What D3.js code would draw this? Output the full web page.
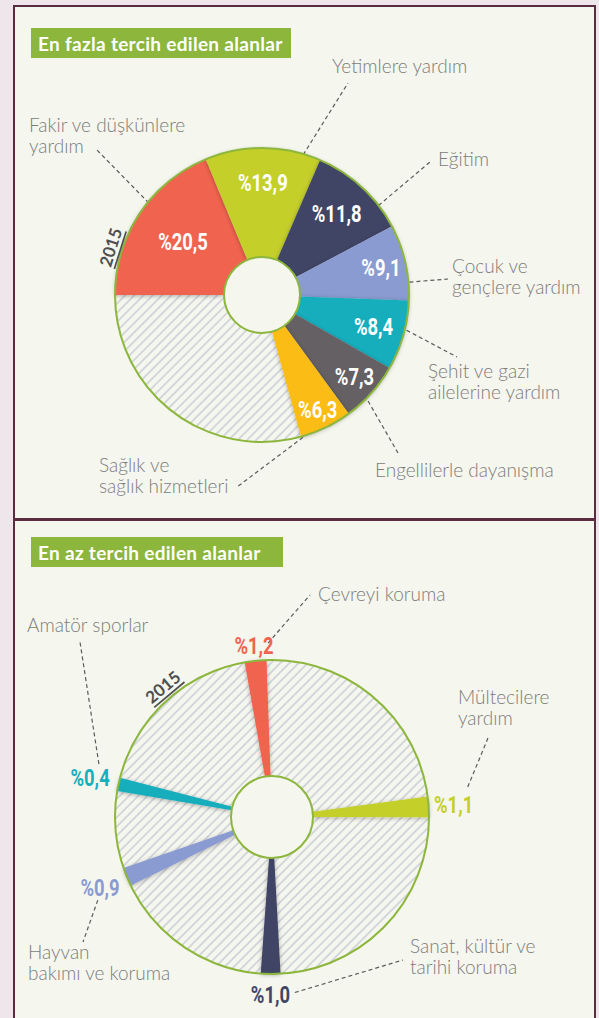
<!DOCTYPE html>
<html>
<head>
<meta charset="utf-8">
<script src="https://cdn.jsdelivr.net/npm/d3@7"></script>
<style>
  body { margin: 0; background: #efe6ec; }
  svg { display: block; }
</style>
</head>
<body>
<svg id="chart" width="599" height="1018"></svg>
<script>
// ---- data: most preferred (2015) ----
var topNames = [["Fakir ve düşkünlere", "yardım"], ["Yetimlere yardım"], ["Eğitim"],
    ["Çocuk ve", "gençlere yardım"], ["Şehit ve gazi", "ailelerine yardım"],
    ["Engellilerle dayanışma"], ["Sağlık ve", "sağlık hizmetleri"]];
var topValues = [20.5, 13.9, 11.8, 9.1, 8.4, 7.3, 6.3];
var topRest = 32.0;   // hatched part, size as drawn in the picture
var topColors = ["#f0644f", "#c4cf2a", "#414565", "#8a9bd1", "#17aebd", "#656163", "#fbbc14"];

// ---- data: least preferred (2015) ----
var botNames = [["Çevreyi koruma"], ["Mültecilere", "yardım"], ["Sanat, kültür ve", "tarihi koruma"],
    ["Hayvan", "bakımı ve koruma"], ["Amatör sporlar"]];
var botValues = [1.2, 1.1, 1.0, 0.9, 0.4];
var botColors = ["#f0644f", "#c4cf2a", "#414565", "#8a9bd1", "#17aebd"];

// ---- layout ----
var TOP = {cx: 262, cy: 295, r: 147, r0: 38};
var BOT = {cx: 272, cy: 817, r: 157, r0: 41};
var topPctR = [95, 112, 110, 122, 116, 124, 128];
// leader: start at (angle, radius) around the pie, end at x,y; text at tx,ty
var topCallouts = [
    {a: -52, r: 125, x: 95, y: 148, tx: 29, ty: 132},
    {a: 13.8, r: 126, x: 348, y: 83, tx: 332, ty: 73},
    {a: 52.6, r: 140, x: 430, y: 162, tx: 438, ty: 166},
    {a: 85, r: 148, x: 448, y: 279, tx: 452, ty: 273},
    {a: 103, r: 142, x: 457, y: 357, tx: 428, ty: 378},
    {a: 135, r: 150, x: 398, y: 453, tx: 375, ty: 477},
    {a: 156, r: 142, x: 237, y: 487, tx: 99, ty: 472}
];
var botAngles = [-6, 86.3, 180.5, 247.6, 282];
var botPctR = [172, 182, 178, 186, 186];
var botCallouts = [
    {a: -1.3, r: 174, x: 310, y: 595, tx: 318, ty: 601},
    {a: 81.3, r: 198, x: 488, y: 738, tx: 458, ty: 704},
    {a: 172.6, r: 177, x: 403, y: 960, tx: 410, ty: 953},
    {a: 244.5, r: 193, x: 83, y: 942, tx: 28, ty: 959},
    {a: 287, r: 181, x: 80, y: 642, tx: 27, ty: 632}
];

var GREEN = "#8cb63c";
var CREAM = "#f5f6ee";
var LABEL_FONT = "Lato, 'Open Sans', sans-serif";
var PCT_FONT = "Roboto, 'Liberation Sans', sans-serif";
var PCT_SQUEEZE = 0.8;

var svg = d3.select("#chart");
var defs = svg.append("defs");

var hatch = defs.append("pattern")
    .attr("id", "hatch")
    .attr("patternUnits", "userSpaceOnUse")
    .attr("width", 6.5).attr("height", 6.5)
    .attr("patternTransform", "rotate(45)");
hatch.append("rect").attr("width", 6.5).attr("height", 6.5).attr("fill", CREAM);
hatch.append("line").attr("x1", 1).attr("y1", 0).attr("x2", 1).attr("y2", 6.5)
    .attr("stroke", "#cacdd6").attr("stroke-width", 1.5);

defs.append("filter").attr("id", "shadow")
    .attr("x", "-20%").attr("y", "-20%").attr("width", "140%").attr("height", "140%")
  .append("feDropShadow")
    .attr("dx", 0).attr("dy", 1).attr("stdDeviation", 2)
    .attr("flood-color", "#000").attr("flood-opacity", 0.3);

function polar(c, r, deg) {
    var t = deg * Math.PI / 180;
    return [c.cx + r * Math.sin(t), c.cy - r * Math.cos(t)];
}

function pct(v) {
    return "%" + d3.format(".1f")(v).replace(".", ",");
}

// panels
svg.append("rect").attr("x", 14).attr("y", 6).attr("width", 581).attr("height", 513)
    .attr("fill", CREAM).attr("stroke", "#5a2c41").attr("stroke-width", 2);
svg.append("rect").attr("x", 14).attr("y", 520).attr("width", 581).attr("height", 520)
    .attr("fill", CREAM).attr("stroke", "#5a2c41").attr("stroke-width", 2);

function title(y, w, txt) {
    svg.append("rect").attr("x", 31).attr("y", y).attr("width", w).attr("height", 30).attr("fill", GREEN);
    svg.append("text").attr("x", 38).attr("y", y + 15)
        .attr("dominant-baseline", "central")
        .attr("fill", "#fff").attr("font-family", LABEL_FONT)
        .attr("font-weight", "bold").attr("font-size", 19)
        .attr("letter-spacing", 0.3)
        .text(txt);
}
title(28, 260, "En fazla tercih edilen alanlar");
title(537, 252, "En az tercih edilen alanlar");

function callouts(c, list, names) {
    var g = svg.append("g");
    list.forEach(function(d, i) {
        var p = polar(c, d.r, d.a);
        g.append("line")
            .attr("x1", p[0]).attr("y1", p[1]).attr("x2", d.x).attr("y2", d.y)
            .attr("stroke", "#5b5b5b").attr("stroke-width", 1.2)
            .attr("stroke-dasharray", "4,3");
        var t = g.append("text").attr("x", d.tx).attr("y", d.ty)
            .attr("font-family", LABEL_FONT).attr("font-size", 19)
            .attr("font-weight", 300)
            .attr("fill", "#7c7c7c");
        names[i].forEach(function(line, j) {
            t.append("tspan").attr("x", d.tx).attr("dy", j ? 21 : 0).text(line);
        });
    });
}

function yearLabel(c, r, deg) {
    var p = polar(c, r, deg);
    svg.append("text")
        .attr("transform", "translate(" + p[0] + "," + p[1] + ") rotate(" + deg + ")")
        .attr("text-anchor", "middle").attr("dominant-baseline", "central")
        .attr("font-family", LABEL_FONT).attr("font-weight", "bold").attr("font-size", 17)
        .attr("fill", "#4f4f4f").attr("text-decoration", "underline")
        .text("2015");
}

// ---- top donut ----
var pie = d3.pie().sort(null)
    .startAngle(-Math.PI / 2).endAngle(3 * Math.PI / 2);
var topArcs = pie(topValues.concat([topRest]));
var arcTop = d3.arc().innerRadius(TOP.r0).outerRadius(TOP.r);

callouts(TOP, topCallouts, topNames);

var gTop = svg.append("g").attr("transform", "translate(" + TOP.cx + "," + TOP.cy + ")");
gTop.append("circle").attr("r", TOP.r).attr("fill", "url(#hatch)");
gTop.selectAll("path.slice").data(topArcs.slice(0, topValues.length)).enter()
    .append("path").attr("class", "slice")
    .attr("d", arcTop)
    .attr("fill", function(d, i) { return topColors[i]; })
    .attr("filter", "url(#shadow)");
gTop.append("circle").attr("r", TOP.r).attr("fill", "none")
    .attr("stroke", GREEN).attr("stroke-width", 2);
gTop.append("circle").attr("r", TOP.r0).attr("fill", CREAM)
    .attr("stroke", GREEN).attr("stroke-width", 2);

gTop.selectAll("text.pct").data(topArcs.slice(0, topValues.length)).enter()
    .append("text").attr("class", "pct")
    .attr("transform", function(d, i) {
        var c = d3.arc().innerRadius(topPctR[i]).outerRadius(topPctR[i]).centroid(d);
        return "translate(" + c[0] + "," + c[1] + ") scale(" + PCT_SQUEEZE + ",1)";
    })
    .attr("text-anchor", "middle").attr("dominant-baseline", "central")
    .attr("font-family", PCT_FONT).attr("font-weight", "bold").attr("font-size", 23)
    .attr("fill", "#fff")
    .text(function(d) { return pct(d.data); });

yearLabel(TOP, 159, -72.5);

// ---- bottom donut ----
var wedgeWidth = d3.scaleLinear().domain([0, 1.2]).range([3.5, 8]);   // degrees
var arcBot = d3.arc().innerRadius(BOT.r0).outerRadius(BOT.r);
var botArcs = botValues.map(function(v, i) {
    var w = wedgeWidth(v);
    return {value: v, startAngle: (botAngles[i] - w / 2) * Math.PI / 180,
            endAngle: (botAngles[i] + w / 2) * Math.PI / 180};
});

callouts(BOT, botCallouts, botNames);

var gBot = svg.append("g").attr("transform", "translate(" + BOT.cx + "," + BOT.cy + ")");
gBot.append("circle").attr("r", BOT.r).attr("fill", "url(#hatch)");
gBot.selectAll("path.slice").data(botArcs).enter()
    .append("path").attr("class", "slice")
    .attr("d", arcBot)
    .attr("fill", function(d, i) { return botColors[i]; })
    .attr("filter", "url(#shadow)");
gBot.append("circle").attr("r", BOT.r).attr("fill", "none")
    .attr("stroke", GREEN).attr("stroke-width", 2);
gBot.append("circle").attr("r", BOT.r0).attr("fill", CREAM)
    .attr("stroke", GREEN).attr("stroke-width", 2);

svg.selectAll("text.bpct").data(botArcs).enter()
    .append("text").attr("class", "bpct")
    .attr("transform", function(d, i) {
        var p = polar(BOT, botPctR[i], botAngles[i]);
        return "translate(" + p[0] + "," + p[1] + ") scale(" + PCT_SQUEEZE + ",1)";
    })
    .attr("text-anchor", "middle").attr("dominant-baseline", "central")
    .attr("font-family", PCT_FONT).attr("font-weight", "bold").attr("font-size", 23)
    .attr("fill", function(d, i) { return botColors[i]; })
    .text(function(d) { return pct(d.value); });

yearLabel(BOT, 170, -40);
</script>
</body>
</html>
